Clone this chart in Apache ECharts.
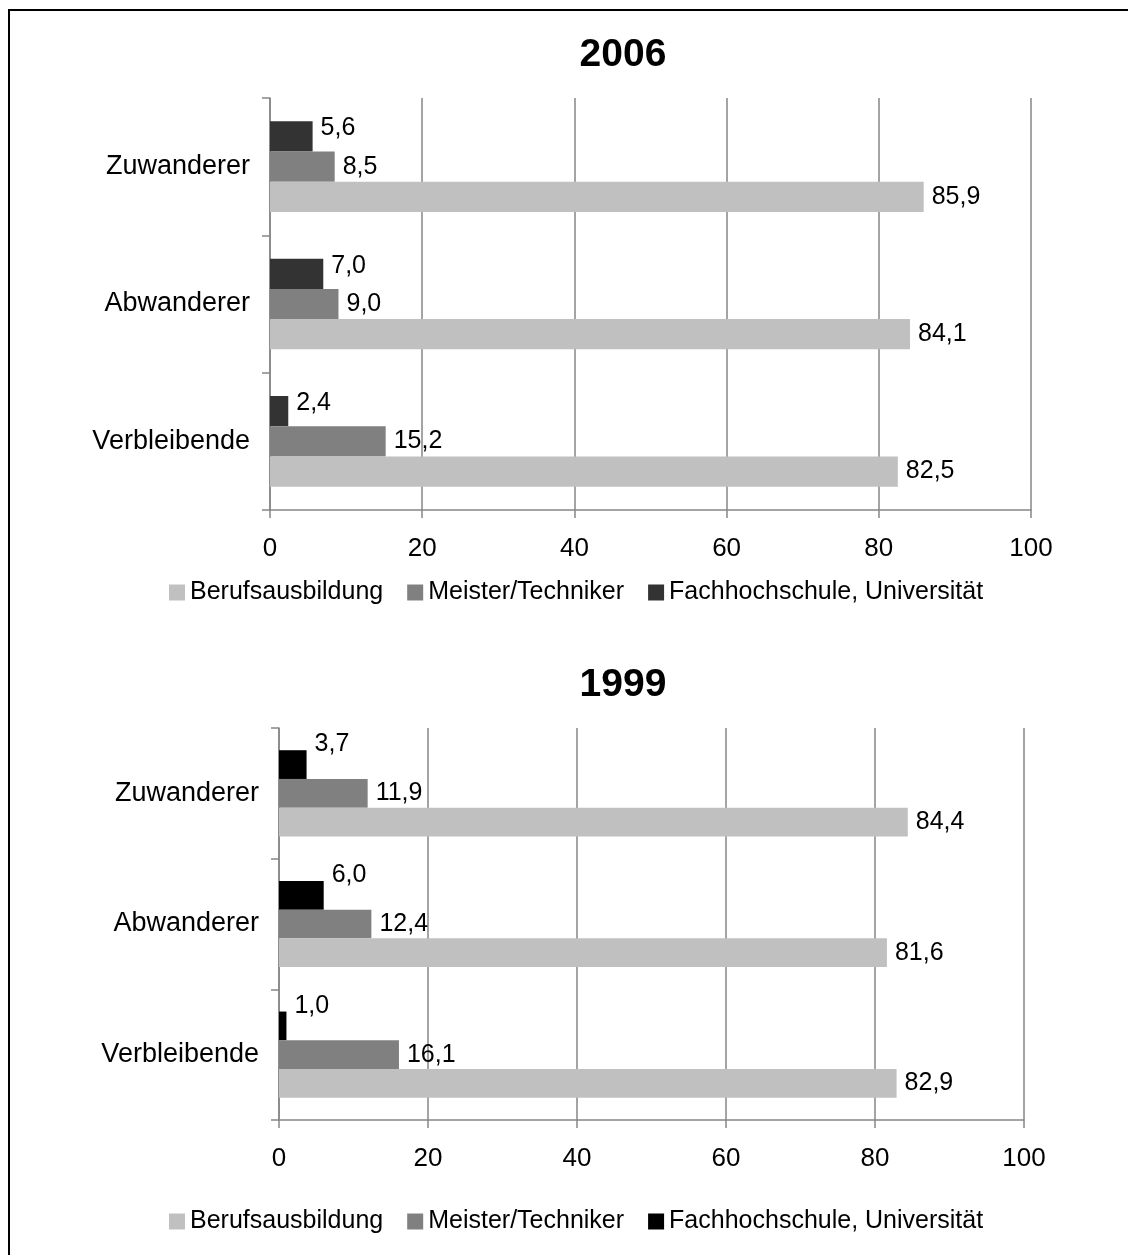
<!DOCTYPE html>
<html>
<head>
<meta charset="utf-8">
<script src="https://cdn.jsdelivr.net/npm/echarts@6/dist/echarts.min.js"></script>
<style>
  html, body { margin: 0; padding: 0; background: #fff; overflow: hidden; }
  #frame { position: absolute; left: 8px; top: 9px; width: 1300px; height: 1400px; border: 2px solid #000; box-sizing: border-box; }
  #c2006 { position: absolute; left: 0; top: 0; width: 1128px; height: 625px; }
  #c1999 { position: absolute; left: 0; top: 625px; width: 1128px; height: 630px; }
</style>
</head>
<body>
<div id="c2006"></div>
<div id="c1999"></div>
<div id="frame"></div>
<script>
const categories = ['Verbleibende', 'Abwanderer', 'Zuwanderer']
const seriesNames = ['Berufsausbildung', 'Meister/Techniker', 'Fachhochschule, Universität']
const xTicks = [0, 20, 40, 60, 80, 100]

// 2006
const beruf2006 = [82.5, 84.1, 85.9]
const meister2006 = [15.2, 9.0, 8.5]
const hochschule2006 = [2.4, 7.0, 5.6]

// 1999
const beruf1999 = [82.9, 81.6, 84.4]
const meister1999 = [16.1, 12.4, 11.9]
const hochschule1999 = [1.0, 6.0, 3.7]

const font = 'Liberation Sans, Arial, sans-serif'
const axisGray = '#868686'

function makeOption(year, values, colors, grid, titleTop, legendTop, topLabelShift) {
  // values/colors in legend order: Beruf, Meister, Hochschule
  // reversed here so Berufsausbildung ends up as the lowest bar
  const series = [2, 1, 0].map(function (i) {
    return {
      name: seriesNames[i],
      type: 'bar',
      data: values[i],
      barGap: '0%',
      barCategoryGap: '34%',
      itemStyle: { color: colors[i] },
      label: {
        show: true,
        position: 'right',
        distance: 8,
        offset: [0, i === 2 ? topLabelShift : 0],
        fontFamily: font,
        fontSize: 25,
        color: '#000',
        formatter: function (p) {
          return p.value.toFixed(1).replace('.', ',')
        }
      }
    }
  })
  return {
    animation: false,
    title: {
      text: year,
      left: 618,
      top: titleTop,
      textAlign: 'center',
      textStyle: { fontFamily: font, fontSize: 39, fontWeight: 'bold', color: '#000' }
    },
    legend: {
      data: seriesNames,
      top: legendTop,
      left: 164,
      itemWidth: 16,
      itemHeight: 16,
      itemGap: 24,
      icon: 'rect',
      textStyle: { fontFamily: font, fontSize: 25, color: '#000' }
    },
    grid: grid,
    xAxis: {
      type: 'value',
      min: xTicks[0],
      max: xTicks[xTicks.length - 1],
      interval: xTicks[1] - xTicks[0],
      axisLine: { show: true, lineStyle: { color: axisGray, width: 1.5 } },
      axisTick: { show: true, length: 8, lineStyle: { color: axisGray, width: 1.5 } },
      splitLine: { show: true, lineStyle: { color: axisGray, width: 1.5 } },
      axisLabel: { margin: 26, fontFamily: font, fontSize: 26, color: '#000' }
    },
    yAxis: {
      type: 'category',
      data: categories,
      axisLine: { show: true, lineStyle: { color: axisGray, width: 1.5 } },
      axisTick: { show: true, length: 8, lineStyle: { color: axisGray, width: 1.5 } },
      axisLabel: { margin: 20, fontFamily: font, fontSize: 27, color: '#000' }
    },
    series: series
  }
}

const chart1 = echarts.init(document.getElementById('c2006'))
chart1.setOption(makeOption('2006',
  [beruf2006, meister2006, hochschule2006],
  ['#c0c0c0', '#808080', '#333333'],
  { left: 270, top: 98, width: 761, height: 412 },
  31, 575, -8))

const chart2 = echarts.init(document.getElementById('c1999'))
chart2.setOption(makeOption('1999',
  [beruf1999, meister1999, hochschule1999],
  ['#c0c0c0', '#808080', '#000000'],
  { left: 279, top: 103, width: 745, height: 392 },
  36, 579, -20))

window.addEventListener('resize', () => {
  chart1.resize()
  chart2.resize()
})
</script>
</body>
</html>
